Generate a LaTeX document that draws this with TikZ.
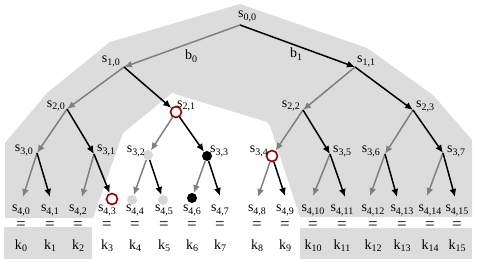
\documentclass[tikz,border=0pt]{standalone}
\usepackage{fontspec}
\setmainfont{Liberation Serif}
\usetikzlibrary{arrows.meta}
\definecolor{bgshade}{RGB}{220,220,220}
\definecolor{dotgray}{RGB}{216,216,216}
\definecolor{dred}{RGB}{140,0,0}
\definecolor{egray}{RGB}{128,128,128}
\newcommand\sbx[2]{#1\raisebox{-2.6pt}{\fontsize{10}{10}\selectfont #2}}
\tikzset{
  pt/.style={inner sep=0pt,minimum size=0pt,outer sep=0pt},
  rc/.style={circle,draw=dred,line width=1.6pt,minimum size=11pt,inner sep=0pt},
  ld/.style={circle,fill=dotgray,minimum size=10pt,inner sep=0pt},
  bd/.style={circle,fill=black,minimum size=10pt,inner sep=0pt},
  ge/.style={draw=egray,line width=1.5pt,-{Latex[length=8pt,width=7pt]}},
  be/.style={draw=black,line width=1.5pt,-{Latex[length=8pt,width=7pt]}},
  lab/.style={inner sep=0pt,font=\fontsize{14}{16}\selectfont},
  eqs/.style={inner sep=0pt,font=\fontsize{17}{18}\selectfont}
}
\begin{document}
\begin{tikzpicture}[x=1pt,y=-1pt]
\useasboundingbox (0,0) rectangle (480,270);
% shaded regions
\fill[bgshade] (240,4) -- (110,42) -- (47,93) -- (5,143) -- (5,218) -- (93,218)
  -- (123,133) -- (172,93) -- (267,122) -- (270,126) -- (300,217) -- (472,217)
  -- (472,140) -- (433,95) -- (367,48) -- cycle;
\fill[bgshade] (4,227) rectangle (92,259);
\fill[bgshade] (300,228) rectangle (472,259);
% level 0-2
\node[pt] (s0-0) at (240,25) {};
\node[pt] (s1-0) at (124,67) {};
\node[pt] (s1-1) at (355,67) {};
\node[pt] (s2-0) at (67,109) {};
\node[rc] (s2-1) at (176,112) {};
\node[pt] (s2-2) at (303,110) {};
\node[pt] (s2-3) at (413,110) {};
% level 3
\node[pt] (s3-0) at (37,153) {};
\node[pt] (s3-1) at (94,154) {};
\node[ld] (s3-2) at (148,155) {};
\node[bd] (s3-3) at (207,156) {};
\node[rc] (s3-4) at (272,156) {};
\node[pt] (s3-5) at (330,154) {};
\node[pt] (s3-6) at (385,154) {};
\node[pt] (s3-7) at (443,153) {};
% level 4
\node[pt] (s4-0) at (23,197) {};
\node[pt] (s4-1) at (50,197) {};
\node[pt] (s4-2) at (82,197) {};
\node[rc] (s4-3) at (112,199) {};
\node[ld] (s4-4) at (132,200) {};
\node[ld] (s4-5) at (163,200) {};
\node[bd] (s4-6) at (192,198) {};
\node[pt] (s4-7) at (220,196) {};
\node[pt] (s4-8) at (258,197) {};
\node[pt] (s4-9) at (285,196) {};
\node[pt] (s4-10) at (313,196) {};
\node[pt] (s4-11) at (345,197) {};
\node[pt] (s4-12) at (370,196) {};
\node[pt] (s4-13) at (397,197) {};
\node[pt] (s4-14) at (427,196) {};
\node[pt] (s4-15) at (455,197) {};
% edges
\draw[ge] (s0-0) -- (s1-0);
\draw[be] (s0-0) -- (s1-1);
\draw[ge] (s1-0) -- (s2-0);
\draw[be] (s1-0) -- (s2-1);
\draw[ge] (s1-1) -- (s2-2);
\draw[be] (s1-1) -- (s2-3);
\foreach \p/\l/\r in {0/0/1,1/2/3,2/4/5,3/6/7} {
  \draw[ge] (s2-\p) -- (s3-\l);
  \draw[be] (s2-\p) -- (s3-\r);
}
\foreach \p/\l/\r in {0/0/1,1/2/3,2/4/5,3/6/7,4/8/9,5/10/11,6/12/13,7/14/15} {
  \draw[ge] (s3-\p) -- (s4-\l);
  \draw[be] (s3-\p) -- (s4-\r);
}
% edge labels
\node[lab,anchor=base west] (b0) at (185,60) {\sbx{b}{0}};
\node[lab,anchor=base west] (b1) at (290,58) {\sbx{b}{1}};
% node labels
\node[lab,anchor=base west] (l0-0) at (238,18) {\sbx{s}{0,0}};
\node[lab,anchor=base east] (l1-0) at (120,63) {\sbx{s}{1,0}};
\node[lab,anchor=base west] (l1-1) at (357,63) {\sbx{s}{1,1}};
\node[lab,anchor=base east] (l2-0) at (65,107) {\sbx{s}{2,0}};
\node[lab,anchor=base west] (l2-1) at (177,107) {\sbx{s}{2,1}};
\node[lab,anchor=base east] (l2-2) at (300,107) {\sbx{s}{2,2}};
\node[lab,anchor=base west] (l2-3) at (416,108) {\sbx{s}{2,3}};
\node[lab,anchor=base east] (l3-0) at (33,152) {\sbx{s}{3,0}};
\node[lab,anchor=base west] (l3-1) at (97,152) {\sbx{s}{3,1}};
\node[lab,anchor=base east] (l3-2) at (145,153) {\sbx{s}{3,2}};
\node[lab,anchor=base west] (l3-3) at (210,153) {\sbx{s}{3,3}};
\node[lab,anchor=base east] (l3-4) at (268,153) {\sbx{s}{3,4}};
\node[lab,anchor=base west] (l3-5) at (333,153) {\sbx{s}{3,5}};
\node[lab,anchor=base east] (l3-6) at (380,153) {\sbx{s}{3,6}};
\node[lab,anchor=base west] (l3-7) at (447,153) {\sbx{s}{3,7}};
\foreach \i/\c in {0/21,1/50,2/78,3/107,4/135,5/164,6/192,7/220,8/257,9/285,10/313,11/342,12/373,13/402,14/430,15/457} {
  \node[lab,anchor=base] (l4-\i) at (\c,211.5) {\sbx{s}{4,\i}};
  \node[eqs,anchor=base] (eq-\i) at (\c,229.5) {=};
  \node[lab,anchor=base] (k-\i) at (\c,249) {\sbx{k}{\i}};
}
\end{tikzpicture}
\end{document}
